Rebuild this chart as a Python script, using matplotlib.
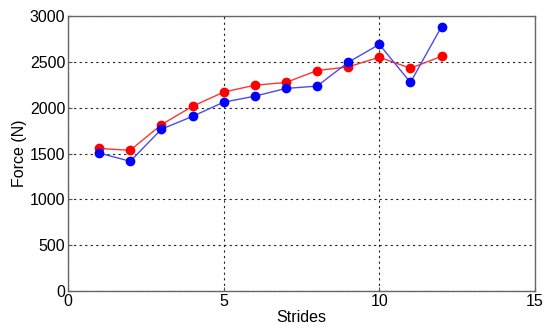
import matplotlib
matplotlib.use("Agg")
import matplotlib.pyplot as plt

plt.rcParams['font.family'] = ['Liberation Sans', 'DejaVu Sans']

strides = [1, 2, 3, 4, 5, 6, 7, 8, 9, 10, 11, 12]
red_force = [1555, 1535, 1815, 2015, 2170, 2245, 2275, 2405, 2445, 2550, 2430, 2560]
blue_force = [1505, 1415, 1765, 1905, 2060, 2125, 2210, 2235, 2495, 2690, 2275, 2885]

fig = plt.figure(figsize=(5.5, 3.33), dpi=100)
ax = fig.add_axes([68/550, 42/333, 467/550, 275/333])

ax.plot(strides, red_force, color='#ff3333', lw=1, marker='o', ms=6,
        mfc='#ff0000', mec='#ff0000', zorder=3)
ax.plot(strides, blue_force, color='#4a4af0', lw=1, marker='o', ms=6,
        mfc='#0000ff', mec='#0000ff', zorder=4)

ax.set_xlim(0, 15)
ax.set_ylim(0, 3000)
ax.set_xticks([0, 5, 10, 15])
ax.set_yticks(range(0, 3001, 500))
ax.grid(True, color='#222222', linestyle=(0, (2, 3)), linewidth=0.8)
ax.tick_params(labelsize=11.5, direction='in', length=3, color='#555555',
               labelcolor='black', pad=2)
for s in ax.spines.values():
    s.set_color('#666666')
    s.set_linewidth(1)
ax.set_xlabel('Strides', fontsize=11.5, labelpad=1)
ax.set_ylabel('Force (N)', fontsize=11.5, labelpad=2)

fig.savefig('out.png', dpi=100)
